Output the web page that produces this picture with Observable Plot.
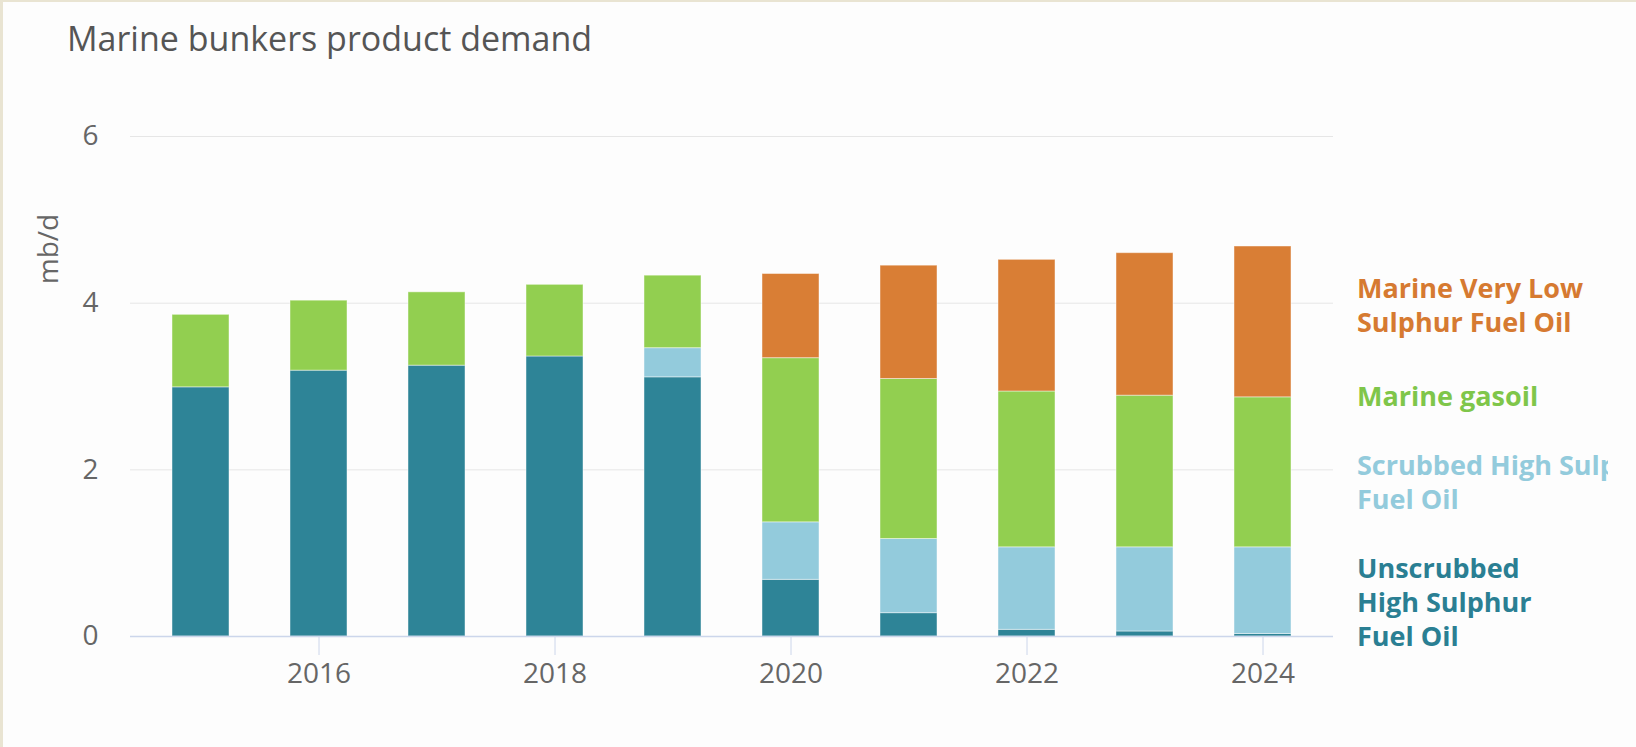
<!DOCTYPE html>
<html>
<head>
<meta charset="utf-8">
<script src="https://cdn.jsdelivr.net/npm/d3@7"></script>
<script src="https://cdn.jsdelivr.net/npm/@observablehq/plot@0.6"></script>
<style>
  html, body { margin: 0; padding: 0; background: #ffffff; }
  #wrap { position: relative; width: 1636px; height: 747px; overflow: hidden; background: #fdfdfd; font-family: "Open Sans", "Noto Sans", sans-serif; }
  #borderL { position: absolute; left: 0; top: 0; width: 3px; height: 747px; background: #e9e4d2; }
  #borderT { position: absolute; left: 0; top: 0; width: 1636px; height: 2px; background: #e9e4d2; }
  #title { position: absolute; left: 67px; top: 21px; font-size: 34px; line-height: 34px; color: #555555; white-space: nowrap; }
  #ylabel { position: absolute; left: 47px; top: 249px; transform: translate(-50%, -50%) rotate(-90deg); font-size: 28px; line-height: 28px; color: #666666; white-space: nowrap; }
  #legend { position: absolute; left: 0; top: 0; width: 1608px; height: 747px; overflow: hidden; pointer-events: none; }
  .lg { position: absolute; left: 1357px; font-size: 27px; line-height: 34px; font-weight: 700; white-space: nowrap; }
  #chart { position: absolute; left: 0; top: 0; }
</style>
</head>
<body>
<div id="wrap">
  <div id="chart"></div>
  <div id="borderL"></div>
  <div id="borderT"></div>
  <div id="title"></div>
  <div id="ylabel"></div>
  <div id="legend"></div>
</div>
<script>
// ---- Data ----
const years = [2015, 2016, 2017, 2018, 2019, 2020, 2021, 2022, 2023, 2024];
const seriesNames = [
  "Unscrubbed High Sulphur Fuel Oil",
  "Scrubbed High Sulphur Fuel Oil",
  "Marine gasoil",
  "Marine Very Low Sulphur Fuel Oil"
];
const unscrubbedHSFO = [2.99, 3.19, 3.25, 3.36, 3.11, 0.68, 0.28, 0.08, 0.06, 0.03];
const scrubbedHSFO   = [0, 0, 0, 0, 0.35, 0.69, 0.89, 0.99, 1.01, 1.04];
const marineGasoil   = [0.87, 0.84, 0.88, 0.86, 0.87, 1.97, 1.92, 1.87, 1.82, 1.80];
const marineVLSFO    = [0, 0, 0, 0, 0, 1.01, 1.36, 1.58, 1.71, 1.81];
const seriesColors = ["#2e8497", "#93cbdc", "#92cf50", "#d97e35"];
const legendColors = ["#2a7f93", "#93cbdc", "#7fc64a", "#d67a31"];
const legendLines = [
  ["Unscrubbed", "High Sulphur", "Fuel Oil"],
  ["Scrubbed High Sulphur", "Fuel Oil"],
  ["Marine gasoil"],
  ["Marine Very Low", "Sulphur Fuel Oil"]
];
const yTicks = [0, 2, 4, 6];
const xTickLabels = ["2016", "2018", "2020", "2022", "2024"];
const titleText = "Marine bunkers product demand";
const yAxisTitle = "mb/d";

// ---- Build ----
const valuesBySeries = [unscrubbedHSFO, scrubbedHSFO, marineGasoil, marineVLSFO];
const rows = years.flatMap((yr, i) =>
  seriesNames.map((s, j) => ({ year: String(yr), series: s, value: valuesBySeries[j][i] }))
).filter(d => d.value > 0);

const chart = Plot.plot({
  width: 1636,
  height: 747,
  marginLeft: 130,
  marginRight: 303,
  marginTop: 136,
  marginBottom: 111,
  style: { fontFamily: "'Open Sans', 'Noto Sans', sans-serif", background: "transparent", overflow: "visible" },
  x: { type: "band", domain: years.map(String), paddingInner: 0.517, paddingOuter: 0.35 },
  y: { domain: [0, 6] },
  color: { domain: seriesNames, range: seriesColors },
  marks: [
    Plot.gridY({ ticks: yTicks.filter(t => t > 0), stroke: "#e6e6e6", strokeOpacity: 1 }),
    Plot.barY(rows, { x: "year", y: "value", fill: "series", order: seriesNames, stroke: "#ffffff", strokeWidth: 1, strokeOpacity: 0.45 }),
    Plot.ruleY([0], { stroke: "#ccd6eb", strokeWidth: 1.5 }),
    Plot.axisY({ ticks: yTicks, tickSize: 0, tickPadding: 32, fill: "#666666", fontSize: 28, label: null, tickFormat: d => String(d) }),
    Plot.axisX({ ticks: xTickLabels, tickSize: 19, tickPadding: 8, stroke: "#ccd6eb", strokeOpacity: 1, fill: "#666666", fontSize: 28, label: null })
  ]
});
document.getElementById("chart").appendChild(chart);

document.getElementById("title").textContent = titleText;
document.getElementById("ylabel").textContent = yAxisTitle;

// legend labels at the right of the plot
const legendTops = [550.5, 447.5, 379, 270.5];
const legend = document.getElementById("legend");
seriesNames.forEach((s, j) => {
  const d = document.createElement("div");
  d.className = "lg";
  d.style.color = legendColors[j];
  d.style.top = legendTops[j] + "px";
  d.innerHTML = legendLines[j].join("<br>");
  legend.appendChild(d);
});
</script>
</body>
</html>
